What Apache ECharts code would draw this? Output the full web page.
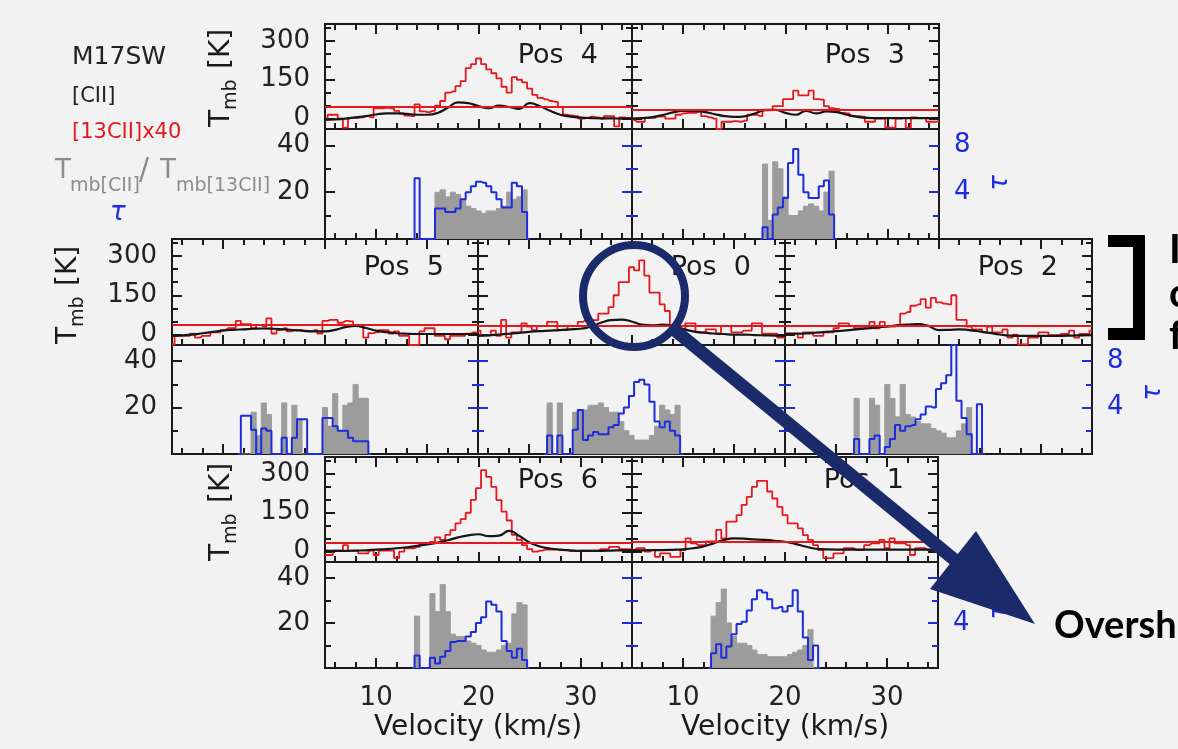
<!DOCTYPE html>
<html>
<head>
<meta charset="utf-8">
<title>M17SW [CII] / [13CII]</title>
<script src="https://cdn.jsdelivr.net/npm/echarts@6/dist/echarts.min.js"></script>
<style>
    html, body { margin: 0; padding: 0; background: #f2f2f2; }
    #main { width: 1178px; height: 749px; }
</style>
</head>
<body>
<div id="main"></div>
<script>
// velocity channels (km/s): [13CII] spectra in 0.5 km/s bins, [CII] sampled every 1 km/s
var redVel = [];
for (var a = 0; a <= 60; a++) redVel.push(5 + a * 0.5);
var ciiVel = [];
for (var b = 0; b <= 30; b++) ciiVel.push(5 + b);

// ---- Pos 4 ----
var pos4Red = [-5, 15, 15, 0, -35, 3, 3, 5, 10, 5,
    40, 40, 42, 40, 30, 20, 12, 10, 55, 28,
    25, 30, 50, 68, 100, 105, 125, 145, 195, 210,
    232, 210, 190, 175, 155, 123, 100, 160, 150, 140,
    116, 92, 80, 74, 68, 65, 45, 15, 12, 10,
    0, 2, 8, 5, 0, 10, 10, -30, 5, 3, 0];
var pos4Cii = [-4, -3, 0, 5, 10, 16, 20, 20, 18, 15, 15, 22, 42, 63, 60, 48, 40, 50, 45, 38, 60, 48, 30, 15, 8, 4, 2, 1, 1, 0, 0];
var pos4Level = 46;
var pos4BinStart = 14.0;
var pos4Ratio = [0, 0, 0, 0, 20, 21, 18, 20, 19, 17, 14, 13, 12, 11, 12, 12, 13, 14, 20, 17, 18, 21];
var pos4Tau = [5.2, 0, 0, 0, 2.6, 2.6, 2.3, 2.3, 2.6, 3.4, 4.0, 4.5, 4.9, 4.8, 4.5, 4.0, 3.4, 2.7, 2.7, 4.8, 4.5, 2.3];

// ---- Pos 3 ----
var pos3Red = [-5, -12, -12, 3, 3, 8, 8, 0, 0, 15,
    20, 22, 22, 28, 10, 5, 0, -40, -12, -12,
    -10, -12, -8, 15, 15, 10, 35, 35, 48, 48,
    75, 75, 108, 90, 90, 108, 75, 73, 48, 40,
    38, 22, 20, 10, 10, 8, -12, -12, 0, 0,
    -35, -35, 0, 2, -35, 5, 3, 3, -12, -12, -10];
var pos3Cii = [0, 2, 6, 14, 24, 30, 30, 26, 18, 10, 7, 9, 20, 33, 34, 22, 15, 30, 20, 28, 25, 15, 7, 3, 2, 2, 2, 2, 2, 2, 2];
var pos3Level = 36;
var pos3BinStart = 18.0;
var pos3Ratio = [32, 8, 33, 30, 18, 10, 10, 12, 14, 15, 14, 12, 20, 29];
var pos3Tau = [1.0, 0, 2.1, 2.7, 3.5, 6.5, 7.7, 5.5, 4.0, 3.5, 3.5, 4.5, 5.0, 2.1];

// ---- Pos 5 ----
var pos5Red = [-38, -5, -5, -5, 3, -12, -5, -5, 8, 8,
    17, 24, 24, 52, 40, 40, 24, 37, 30, 62,
    4, 17, 24, 12, 17, 17, 12, 12, 17, 4,
    52, 56, 56, 45, 52, 50, 32, 32, -12, 5,
    8, 17, 17, 4, 12, -5, -5, -40, -40, 12,
    24, 24, -5, -5, -18, -5, -5, -5, 3, 8, 8];
var pos5Cii = [-5, -3, 0, 5, 10, 15, 18, 20, 22, 23, 22, 20, 17, 14, 12, 12, 18, 28, 33, 25, 15, 9, 5, 3, 2, 2, 2, 2, 2, 2, 2];
var pos5Level = 36;
var pos5BinStart = 12.0;
var pos5Ratio = [0, 0, 18, 8, 22, 17, 0, 0, 22, 0, 21, 15, 0, 0, 0, 0, 20, 12, 26, 10, 21, 22, 30, 24, 24];
var pos5Tau = [3.3, 3.3, 2.1, 0, 2.2, 2.0, 0, 0, 1.4, 0, 1.4, 3.0, 3.0, 0, 0, 0, 3.1, 3.1, 2.4, 2.0, 2.0, 1.4, 1.1, 1.1, 1.1];

// ---- Pos 0 ----
var pos0Red = [15, -3, -3, 15, -5, 56, -12, 8, 8, 43,
    30, 17, 33, 33, 48, 48, 17, 17, 33, 33,
    48, 55, 55, 55, 80, 80, 105, 150, 200, 200,
    257, 245, 283, 225, 160, 160, 115, 90, 33, 20,
    20, 43, 43, 8, 8, 20, 20, 3, 33, 33,
    8, 8, 15, 15, 43, 43, 3, 3, 3, -12, -12];
var pos0Cii = [-5, -3, 0, 3, 6, 10, 13, 15, 17, 20, 22, 30, 45, 55, 57, 50, 38, 35, 38, 33, 22, 12, 7, 4, 2, 0, 0, -2, -3, -4, -5];
var pos0Level = 35;
var pos0BinStart = 12.0;
var pos0Ratio = [22, 0, 22, 0, 0, 18, 19, 19, 21, 21, 22, 20, 18, 18, 14, 10, 8, 6, 6, 6, 8, 12, 21, 19, 17, 21];
var pos0Tau = [1.6, 0, 1.6, 0, 0, 2.1, 3.8, 1.2, 1.6, 1.9, 1.7, 1.7, 2.3, 2.5, 3.5, 4.0, 5.0, 6.2, 6.4, 6.0, 4.5, 2.8, 2.3, 2.8, 2.0, 1.6];

// ---- Pos 2 ----
var pos2Red = [5, 4, 4, -12, 8, 8, -5, -5, 8, 8,
    24, 43, 43, 33, 24, 24, 30, 48, 24, 48,
    30, 30, 37, 80, 86, 110, 115, 135, 103, 140,
    123, 118, 115, 150, 56, 56, 30, 20, 20, 8,
    30, 8, 8, 20, -12, 0, -38, -38, -12, -12,
    8, 8, -2, -2, 2, 2, 15, -12, 2, 2, 15];
var pos2Cii = [2, 3, 4, 7, 10, 13, 16, 20, 23, 27, 31, 35, 38, 40, 33, 17, 18, 20, 17, 12, 6, 0, -4, -5, -5, -5, -5, -5, -4, -3, -2];
var pos2Level = 35;
var pos2BinStart = 12.0;
var pos2Ratio = [24, 0, 0, 24, 21, 0, 30, 24, 16, 30, 17, 16, 14, 13, 13, 11, 10, 9, 7, 7, 10, 13, 20, 0, 0];
var pos2Tau = [1.3, 0, 0, 1.3, 1.6, 0, 0.6, 1.3, 2.5, 2.0, 2.4, 2.5, 3.0, 3.4, 4.1, 4.0, 5.6, 6.1, 6.8, 9.4, 4.6, 3.1, 1.7, 0, 4.3];

// ---- Pos 6 ----
var pos6Red = [-13, -13, 4, 4, 25, 4, 4, -7, -7, 4,
    -13, 4, 4, 4, -25, 0, 13, 13, 18, 30,
    30, 38, 55, 45, 65, 83, 109, 125, 150, 200,
    245, 314, 288, 250, 199, 154, 120, 65, 45, 25,
    10, 0, 4, 8, 8, 8, 6, 6, 2, 2,
    4, 4, 4, 4, 10, 10, 18, 18, 10, 10, 10];
var pos6Cii = [4, 3, 3, 4, 5, 8, 10, 13, 17, 22, 28, 35, 44, 55, 63, 67, 60, 62, 80, 60, 35, 20, 12, 8, 5, 3, 3, 3, 4, 5, 5];
var pos6Level = 35;
var pos6BinStart = 14.0;
var pos6Ratio = [23, 0, 0, 33, 25, 37, 25, 15, 14, 14, 12, 11, 10, 8, 7, 7, 8, 10, 11, 24, 29, 28];
var pos6Tau = [1.1, 0, 0, 0.9, 0.4, 1.0, 1.5, 2.3, 2.4, 2.4, 2.8, 3.2, 4.0, 4.5, 5.9, 5.6, 5.0, 2.4, 1.5, 0.9, 1.7, 0.7];

// ---- Pos 1 ----
var pos1Red = [6, 13, 13, 0, 6, -20, -7, -7, -20, -20,
    6, 51, 32, 25, 25, 39, 39, 84, 51, 116,
    116, 141, 180, 211, 250, 273, 273, 232, 205, 173,
    141, 109, 109, 90, 64, 45, 25, 6, -25, -25,
    -7, -7, 13, 13, 6, 6, 25, 32, 32, 45,
    13, 51, 32, 32, 25, -13, 13, 13, 6, 6, 6];
var pos1Cii = [5, 5, 6, 6, 7, 9, 13, 20, 32, 45, 51, 50, 47, 45, 42, 38, 30, 20, 11, 9, 8, 8, 8, 8, 8, 8, 8, 8, 8, 8, 8];
var pos1Level = 40;
var pos1BinStart = 13.0;
var pos1Ratio = [23, 29, 35, 20, 14, 11, 11, 10, 8, 6, 6, 5, 5, 5, 5, 6, 7, 8, 10, 17, 0];
var pos1Tau = [1.3, 2.1, 0.9, 1.9, 3.0, 3.9, 4.1, 5.1, 6.1, 6.9, 6.7, 6.1, 5.3, 5.4, 5.0, 5.5, 6.9, 5.0, 2.7, 0.7, 2.0];

// tick positions and labels
var xShortTicks = [6, 8, 12, 14, 16, 18, 22, 24, 26, 28, 32, 34];
var xLongTicks = [10, 20, 30];
var tShortTicks = [50, 100, 200, 250, 350];
var tLongTicks = [0, 150, 300];
var rShortTicks = [10, 30];
var rLongTicks = [20, 40];
var tauShortTicks = [2, 6];
var tauLongTicks = [4, 8];

var FONT = 'DejaVu Sans';
var BOLD = 'Lato';
var RED = '#e5181e', BLACK = '#151515', BLUE = '#1d2ddc', GREY = '#9c9c9c', NAVY = '#1b2a6b', INK = '#1a1a1a';
var TMIN = -40, TMAX = 365, RMAX = 47, TAUMAX = 9.4;

var rows = [
    {top: 24, hTop: 105, hBot: 110, titleY: 56},
    {top: 239, hTop: 106, hBot: 109, titleY: 268},
    {top: 457, hTop: 105, hBot: 106, titleY: 481}
];

var panels = [
    {name: 'Pos  4', row: 0, x: 325, w: 307, first: true, last: false, red: pos4Red, cii: pos4Cii, level: pos4Level, start: pos4BinStart, ratio: pos4Ratio, tau: pos4Tau},
    {name: 'Pos  3', row: 0, x: 632, w: 307, first: false, last: true, red: pos3Red, cii: pos3Cii, level: pos3Level, start: pos3BinStart, ratio: pos3Ratio, tau: pos3Tau},
    {name: 'Pos  5', row: 1, x: 172, w: 306, first: true, last: false, red: pos5Red, cii: pos5Cii, level: pos5Level, start: pos5BinStart, ratio: pos5Ratio, tau: pos5Tau},
    {name: 'Pos  0', row: 1, x: 478, w: 307, first: false, last: false, red: pos0Red, cii: pos0Cii, level: pos0Level, start: pos0BinStart, ratio: pos0Ratio, tau: pos0Tau},
    {name: 'Pos  2', row: 1, x: 785, w: 307, first: false, last: true, red: pos2Red, cii: pos2Cii, level: pos2Level, start: pos2BinStart, ratio: pos2Ratio, tau: pos2Tau},
    {name: 'Pos  6', row: 2, x: 325, w: 307, first: true, last: false, red: pos6Red, cii: pos6Cii, level: pos6Level, start: pos6BinStart, ratio: pos6Ratio, tau: pos6Tau},
    {name: 'Pos  1', row: 2, x: 632, w: 306, first: false, last: true, red: pos1Red, cii: pos1Cii, level: pos1Level, start: pos1BinStart, ratio: pos1Ratio, tau: pos1Tau}
];

function labelStyle(values, color, margin) {
    if (!values) return {show: false};
    return {show: true, customValues: values, margin: margin, fontSize: 26, color: color, fontFamily: FONT};
}

function xAx(grid, pos, ticks, len, labels) {
    return {
        type: 'value', gridIndex: grid, position: pos, min: 5, max: 35,
        axisLine: {show: false, onZero: false},
        axisTick: {show: true, inside: true, length: len, customValues: ticks, lineStyle: {color: INK, width: 2}},
        axisLabel: labelStyle(labels, '#222', 17),
        splitLine: {show: false}
    };
}

function yAx(grid, pos, min, max, ticks, len, tickColor, labels, labelColor) {
    return {
        type: 'value', gridIndex: grid, position: pos, min: min, max: max,
        axisLine: {show: false, onZero: false},
        axisTick: {show: true, inside: true, length: len, customValues: ticks, lineStyle: {color: tickColor, width: 2}},
        axisLabel: labelStyle(labels, labelColor, pos === 'left' ? 15 : 15),
        splitLine: {show: false}
    };
}

// histogram bins padded with a zero channel on both sides
function binned(start, vals) {
    var out = [[start - 0.5, 0]];
    for (var k = 0; k < vals.length; k++) out.push([start + 0.5 * k, vals[k]]);
    out.push([start + 0.5 * vals.length, 0]);
    return out;
}

var grids = [], xAxes = [], yAxes = [], series = [], graphics = [];

panels.forEach(function (p) {
    var r = rows[p.row];
    var gT = grids.length;
    grids.push({left: p.x, top: r.top, width: p.w, height: r.hTop, show: true, borderColor: INK, borderWidth: 2, backgroundColor: 'transparent'});
    var gB = grids.length;
    grids.push({left: p.x, top: r.top + r.hTop, width: p.w, height: r.hBot, show: true, borderColor: INK, borderWidth: 2, backgroundColor: 'transparent'});

    var xT = xAxes.length;
    xAxes.push(xAx(gT, 'bottom', xShortTicks, 6));
    xAxes.push(xAx(gT, 'bottom', xLongTicks, 10));
    xAxes.push(xAx(gT, 'top', xShortTicks, 6));
    xAxes.push(xAx(gT, 'top', xLongTicks, 10));
    var xB = xAxes.length;
    xAxes.push(xAx(gB, 'bottom', xShortTicks, 6, p.row === 2 ? xLongTicks : null));
    xAxes.push(xAx(gB, 'bottom', xLongTicks, 10));

    var yT = yAxes.length;
    yAxes.push(yAx(gT, 'left', TMIN, TMAX, tShortTicks, 6, INK, p.first ? tLongTicks : null, '#222'));
    yAxes.push(yAx(gT, 'left', TMIN, TMAX, tLongTicks, 10, INK));
    yAxes.push(yAx(gT, 'right', TMIN, TMAX, tShortTicks, 6, INK));
    yAxes.push(yAx(gT, 'right', TMIN, TMAX, tLongTicks, 10, INK));
    var leftTick = p.first ? INK : BLUE;
    var yR = yAxes.length;
    yAxes.push(yAx(gB, 'left', 0, RMAX, rShortTicks, 6, leftTick, p.first ? rLongTicks : null, '#222'));
    yAxes.push(yAx(gB, 'left', 0, RMAX, rLongTicks, 10, leftTick));
    var yTau = yAxes.length;
    yAxes.push(yAx(gB, 'right', 0, TAUMAX, tauShortTicks, 6, BLUE, p.last ? tauLongTicks : null, BLUE));
    yAxes.push(yAx(gB, 'right', 0, TAUMAX, tauLongTicks, 10, BLUE));

    // [13CII] x40 spectrum and its level line
    series.push({
        type: 'line', xAxisIndex: xT, yAxisIndex: yT, step: 'middle', symbol: 'none', z: 3,
        data: redVel.map(function (v, k) { return [v, p.red[k]]; }),
        lineStyle: {color: RED, width: 1.8},
        markLine: {
            silent: true, symbol: ['none', 'none'], label: {show: false},
            lineStyle: {color: RED, width: 1.8, type: 'solid'},
            data: [{yAxis: p.level}]
        }
    });
    // [CII]
    series.push({
        type: 'line', xAxisIndex: xT, yAxisIndex: yT, smooth: true, symbol: 'none', z: 4,
        data: ciiVel.map(function (v, k) { return [v, p.cii[k]]; }),
        lineStyle: {color: BLACK, width: 2.2}
    });
    // ratio histogram
    series.push({
        type: 'line', xAxisIndex: xB, yAxisIndex: yR, step: 'middle', symbol: 'none', z: 2,
        data: binned(p.start, p.ratio),
        lineStyle: {color: GREY, width: 1},
        areaStyle: {color: GREY, opacity: 1}
    });
    // optical depth
    series.push({
        type: 'line', xAxisIndex: xB, yAxisIndex: yTau, step: 'middle', symbol: 'none', z: 3,
        data: binned(p.start, p.tau),
        lineStyle: {color: BLUE, width: 2}
    });

    graphics.push(txt(p.x + p.w - 34, r.titleY, p.name, 27, '#1a1a1a', {align: 'right'}));
});

function txt(x, y, s, size, color, extra) {
    var style = {text: s, fontSize: size, fontFamily: FONT, fill: color, align: 'left', verticalAlign: 'middle'};
    if (extra) for (var k in extra) style[k] = extra[k];
    style.textAlign = style.align;
    style.textVerticalAlign = style.verticalAlign;
    return {type: 'text', x: x, y: y, z: 100, style: style};
}

// T_mb [K] labels, rotated to read upwards
function tmbLabel(x, y) {
    return {
        type: 'group', x: x, y: y, rotation: Math.PI / 2, z: 100,
        children: [
            txt(0, 0, 'T', 28, '#1a1a1a'),
            txt(17, 9, 'mb', 19, '#1a1a1a'),
            txt(58, 0, '[K]', 28, '#1a1a1a')
        ]
    };
}
function tauLabel(x, y) {
    return {type: 'group', x: x, y: y, rotation: Math.PI / 2, z: 100,
        children: [txt(0, 0, 'τ', 26, BLUE, {align: 'center', fontStyle: 'italic'})]};
}

graphics.push(tmbLabel(222, 127), tmbLabel(69, 344), tmbLabel(222, 561));
graphics.push(tauLabel(1000, 183), tauLabel(1153, 393), tauLabel(1000, 612));
graphics.push(txt(478, 728, 'Velocity (km/s)', 28, '#1a1a1a', {align: 'center'}));
graphics.push(txt(785, 728, 'Velocity (km/s)', 28, '#1a1a1a', {align: 'center'}));

// legend block
var LGREY = '#8c8c8c';
graphics.push(
    txt(72, 57, 'M17SW', 25, '#222'),
    txt(72, 97, '[CII]', 21, '#222'),
    txt(72, 133, '[13CII]x40', 21, RED),
    txt(55, 171, 'T', 26, LGREY),
    txt(70, 186, 'mb[CII]', 19, LGREY),
    txt(139, 171, '/', 30, LGREY),
    txt(160, 171, 'T', 26, LGREY),
    txt(176, 186, 'mb[13CII]', 19, LGREY),
    txt(110, 213, 'τ', 26, BLUE, {fontStyle: 'italic'})
);

// slide annotations
graphics.push(
    {type: 'circle', z: 110, shape: {cx: 634, cy: 296, r: 51}, style: {fill: 'none', stroke: NAVY, lineWidth: 8}},
    {type: 'line', z: 110, shape: {x1: 671, y1: 327, x2: 956, y2: 561}, style: {stroke: NAVY, lineWidth: 13}},
    {type: 'polygon', z: 110, shape: {points: [[976, 531], [930, 589], [1035, 624]]}, style: {fill: NAVY}},
    {type: 'polyline', z: 110, shape: {points: [[1108, 241], [1139, 241], [1139, 334], [1108, 334]]}, style: {fill: 'none', stroke: '#000', lineWidth: 12, lineJoin: 'miter'}},
    txt(1169, 250, 'I', 40, '#000', {fontFamily: BOLD, fontWeight: 'bold'}),
    txt(1169, 294, 'c', 40, '#000', {fontFamily: BOLD, fontWeight: 'bold'}),
    txt(1169, 336, 'f', 40, '#000', {fontFamily: BOLD, fontWeight: 'bold'}),
    txt(1054, 626, 'Oversh', 38, '#000', {fontFamily: BOLD, fontWeight: 'bold'})
);

var chart = echarts.init(document.getElementById('main'));
chart.setOption({
    backgroundColor: '#f2f2f2',
    animation: false,
    textStyle: {fontFamily: FONT},
    grid: grids,
    xAxis: xAxes,
    yAxis: yAxes,
    series: series,
    graphic: {elements: graphics}
});
</script>
</body>
</html>
